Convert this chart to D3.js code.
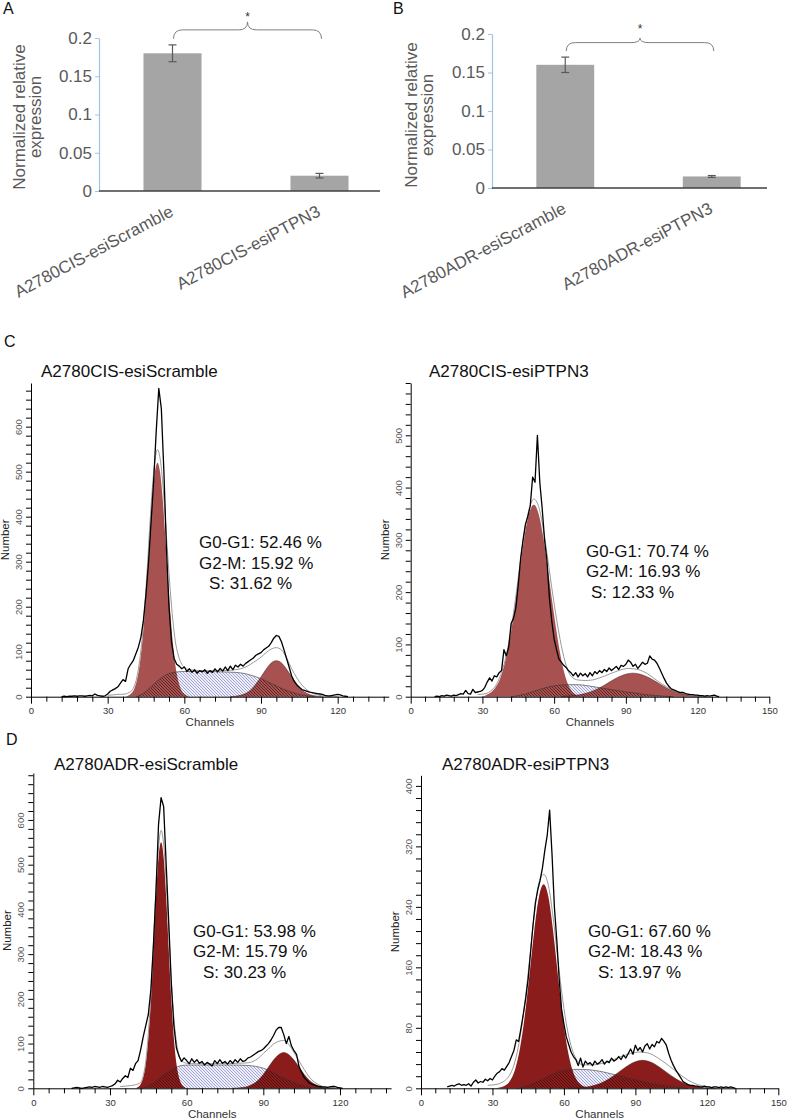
<!DOCTYPE html>
<html><head><meta charset="utf-8">
<script src="https://cdn.jsdelivr.net/npm/d3@7"></script>
<style>body{margin:0;background:#fff}svg{display:block}text{font-family:"Liberation Sans",Arial,sans-serif}</style>
</head><body><svg id="chart" width="787" height="1119"></svg>
<script>
// ---------- Bar chart data ----------
const barTicks = [0, 0.05, 0.1, 0.15, 0.2];
const catsA = ["A2780CIS-esiScramble", "A2780CIS-esiPTPN3"];
const valsA = [0.18, 0.02];
const errsA = [0.011, 0.003];
const catsB = ["A2780ADR-esiScramble", "A2780ADR-esiPTPN3"];
const valsB = [0.16, 0.015];
const errsB = [0.01, 0.0012];

// ---------- Flow cytometry data ----------
// C left: A2780CIS-esiScramble
const cisScrRawStart = 12;
const cisScrRaw = [0,1,0,1,1,2,1,2,2,1, 2,3,2,6,3,2,1,2,6,12, 15,18,22,30,38,34,62,72,80,95,
  110,132,170,228,300,390,480,590,685,640, 500,330,200,120,85,72,68,62,66,56, 62,54,60,52,58,55,60,52,58,54,
  62,55,63,57,66,58,68,60,70,66, 72,68,74,78,82,86,92,95,98,104, 108,112,120,130,136,134,122,104,85,66,
  46,34,26,21,16,14,12,10,9,8, 7,6,5,3,2,2,3,4,5,4, 2,1,0];
const cisScrG1 = [[37,0],[38.5,4],[39.5,9],[40.5,19],[41.5,38],[42.5,70],[43.5,120],[44.5,187],[45.5,271],[46.5,360],[47.5,442],[48.5,499],[49.5,520],[50.5,499],[51.5,442],[52.5,360],[53.5,271],[54.5,187],[55.5,120],[56.5,70],[57.5,38],[58.5,19],[59.5,9],[60.5,4],[62,0]];
const cisScrG2 = [[78,0],[80,1],[82,3],[84,7],[86,15],[88,28],[90,44],[92,61],[94,75],[96,80],[98,75],[100,61],[102,44],[104,28],[106,15],[108,7],[110,3],[112,1],[114,0]];
const cisScrS = [[41,0],[43,4],[45,12],[47,22],[49,33],[51,42],[53,49],[55,53],[57,55],[60,56],[65,56],[70,56],[75,55],[80,54],[84,51],[87,46],[90,40],[93,32],[96,24],[99,16],[102,10],[105,5],[108,2],[111,0]];
const cisScrFit = [[30,3],[34,5],[37,6],[38.5,10],[39.5,14],[40.5,25],[41.5,45],[42.5,80],[43.5,130],[44.5,200],[45.5,287],[46.5,380],[47.5,465],[48.5,525],[49.5,549],[50.5,530],[51.5,478],[52.5,400],[53.5,315],[54.5,235],[55.5,170],[56.5,122],[57.5,95],[58.5,78],[59.5,68],[62,60],[66,58],[70,58],[75,58],[80,60],[84,66],[87,76],[90,88],[92,98],[94,106],[96,109],[98,104],[100,86],[102,62],[104,42],[106,26],[108,15],[110,8],[112,4],[116,1],[120,0]];
const cisScrStats = ["G0-G1: 52.46 %", "G2-M: 15.92 %", "S: 31.62 %"];

// C right: A2780CIS-esiPTPN3
const cisPtRawStart = 10;
const cisPtRaw = [0,1,0,2,1,3,2,1,3,2, 4,6,5,12,6,5,14,8,9,10, 12,18,28,36,30,40,38,46,50,90,
  78,95,140,150,170,215,265,300,330,345, 365,420,410,500,410,360,300,260,190,145, 110,90,72,66,60,56,50,46,40,46,
  38,45,40,44,38,46,40,48,44,50, 46,52,48,55,50,54,58,52,60,58, 62,70,66,58,62,54,60,66,62,64,
  78,72,70,64,55,45,35,26,20,15, 13,11,9,8,8,6,5,4,4,3, 3,2,2,1,2,1,2,3,1,0];
const cisPtG1 = [[29.5,0],[31.5,3],[33.5,8],[35.5,18],[37.5,36],[39.5,67],[41.5,112],[43.5,172],[45.5,240],[47.5,304],[49.5,350],[51.5,367],[53.5,350],[55.5,304],[57.5,240],[59.5,172],[61.5,110],[63.5,60],[65.5,27],[67.5,10],[69.5,3],[71.5,0]];
const cisPtG2 = [[63,0],[65,1],[69,2.5],[73,6],[77,12.5],[81,22],[85,33],[89,41.5],[93,45],[97,41.5],[101,33],[105,22],[109,12.5],[113,6],[117,2.5],[121,1],[124,0]];
const cisPtS = [[42,0],[46,3],[50,8],[54,14],[58,19],[62,22],[66,23],[70,23],[74,21],[78,18],[82,15],[86,12],[90,9],[94,7],[98,4],[102,2.5],[106,1],[110,0]];
const cisPtFit = [[28,4],[31.5,6],[33.5,11],[35.5,21],[37.5,40],[39.5,70],[41.5,116],[43.5,176],[45.5,245],[47.5,311],[49.5,358],[51.5,378],[53.5,364],[55.5,320],[57.5,258],[59.5,193],[61.5,135],[63.5,87],[65.5,53],[67.5,37],[70,32],[73,31],[76,32],[79,36],[83,43],[87,50],[91,54],[95,52],[99,44],[103,31],[107,19],[111,10],[115,5],[119,2],[124,0]];
const cisPtStats = ["G0-G1: 70.74 %", "G2-M: 16.93 %", "S: 12.33 %"];

// D left: A2780ADR-esiScramble
const adrScrRawStart = 15;
const adrScrRaw = [0,1,2,1,0,1,2,3,2,4, 3,2,4,3,2,4,6,10,18,14, 22,28,24,45,40,55,62,86,115,140,
  165,220,320,440,590,650,630,500,370,235, 140,90,72,60,68,62,55,66,58,64, 56,60,52,58,54,50,62,55,64,56,
  60,54,62,56,64,58,66,60,62,68, 70,74,78,82,84,88,94,100,108,118, 130,136,136,120,100,116,95,84,76,48,
  36,24,18,12,9,7,5,4,3,3, 2,3,4,4,2,1,0];
const adrScrG1 = [[40,0],[41,3],[42,9],[43,24],[44,55],[45,112],[46,198],[47,310],[48,426],[49,516],[50,550],[51,516],[52,426],[53,310],[54,198],[55,112],[56,55],[57,24],[58,9],[59,3],[60,0]];
const adrScrG2 = [[78,0],[80,0.7],[82,1.8],[84,4.3],[86,9.4],[88,18],[90,31],[92,47],[94,63],[96,75],[98,80],[100,75],[102,63],[104,47],[106,31],[108,18],[110,9.4],[112,4.3],[114,1.8],[116,0.7],[118,0]];
const adrScrS = [[42,0],[44,3],[46,9],[48,17],[50,26],[52,34],[54,41],[56,47],[58,51],[61,52],[66,52],[72,52],[78,52],[84,51],[87,49],[90,45],[93,38],[96,29],[99,20],[102,13],[105,7],[108,3],[111,1],[114,0]];
const adrScrFit = [[34,4],[38,6],[40,8],[42,13],[43,28],[44,60],[45,122],[46,208],[47,322],[48,445],[49,538],[50,577],[51,546],[52,460],[53,348],[54,240],[55,158],[56,104],[57,75],[58,62],[60,56],[64,55],[70,55],[76,55],[80,56],[84,57],[86,60],[88,67],[90,78],[92,88],[94,99],[96,105],[98,107],[100,98],[102,80],[104,61],[106,42],[108,25],[110,14],[112,7],[114,3],[118,1],[121,0]];
const adrScrStats = ["G0-G1: 53.98 %", "G2-M: 15.79 %", "S: 30.23 %"];

// D right: A2780ADR-esiPTPN3
const adrPtRawStart = 11;
const adrPtRaw = [2,3,4,3,5,6,4,5,4,6, 3,8,11,7,9,8,12,10,13,11, 16,20,22,26,24,29,34,42,50,64,
  62,80,99,120,145,180,215,245,262,275, 292,315,335,368,310,240,196,145,105,85, 68,58,48,42,38,30,40,28,36,32,
  34,30,36,32,34,38,32,36,34,40, 36,38,42,38,44,40,46,52,45,57, 50,54,48,56,59,52,58,55,62,60,
  66,62,57,46,37,30,24,19,14,9, 7,5,4,4,3,3,2,2,3,2, 2,1,2,2,1,2,1,2,1,2,1,0];
const adrPtG1 = [[31.5,0],[33.5,1.3],[35.5,4],[37.5,10.5],[39.5,25],[41.5,52],[43.5,94],[45.5,149],[47.5,207],[49.5,253],[51.5,270],[53.5,253],[55.5,207],[57.5,149],[59.5,94],[61.5,52],[63.5,25],[65.5,10.5],[67.5,4],[69.5,1.3],[71.5,0]];
const adrPtG2 = [[62,0],[65,0.5],[69,1.5],[73,4],[77,9],[81,16.7],[85,26],[89,33.9],[93,37],[97,33.9],[101,26],[105,16.7],[109,9],[113,4],[117,1.5],[121,0.5],[124,0]];
const adrPtS = [[40,0],[44,3],[48,8],[52,14],[56,20],[60,24],[64,25],[68,25],[72,24],[76,22],[80,19],[84,16],[88,13],[92,10],[96,7],[100,5],[104,3],[108,1.5],[112,0]];
const adrPtFit = [[28,4],[31.5,5],[33.5,7],[35.5,11],[37.5,19],[39.5,36],[41.5,66],[43.5,110],[45.5,168],[47.5,228],[49.5,272],[51.5,283],[53.5,268],[55.5,225],[57.5,169],[59.5,117],[61.5,77],[63.5,51],[65.5,37],[68,31],[72,31],[76,33],[80,37],[84,42],[88,46],[92,48],[96,46],[100,39],[104,30],[108,20],[112,11],[116,5],[120,2],[124,0]];
const adrPtStats = ["G0-G1: 67.60 %", "G2-M: 18.43 %", "S: 13.97 %"];

// ---------- Drawing ----------
const FONT = '"Liberation Sans", Arial, sans-serif';
const svg = d3.select("#chart");
svg.append("rect").attr("width", 787).attr("height", 1119).attr("fill", "#fff");
const defs = svg.append("defs");

function hatch(id, bg, stroke, sw) {
  const p = defs.append("pattern").attr("id", id).attr("patternUnits", "userSpaceOnUse")
    .attr("width", 3).attr("height", 3);
  if (bg) p.append("rect").attr("width", 3).attr("height", 3).attr("fill", bg);
  p.append("path").attr("d", "M-1,-1L4,4M2,-1L4,1M-1,2L1,4").attr("stroke", stroke).attr("stroke-width", sw);
}
hatch("hBlue", "#eeeef8", "#7f86c8", 0.7);
hatch("hDark", null, "#2a0a0a", 0.6);

function panelLabel(t, x, y) {
  svg.append("text").attr("x", x).attr("y", y).text(t)
    .attr("font-size", 16).attr("fill", "#111").attr("font-family", FONT);
}

function barChart(o) {
  const g = svg.append("g");
  const y = d3.scaleLinear().domain([0, 0.2]).range([o.y0, o.yTop]);
  const x = d3.scaleBand().domain(o.cats).range([o.axisX, o.bandEnd]);
  const ax = d3.axisLeft(y).tickValues(barTicks).tickSize(4).tickSizeOuter(0).tickPadding(3)
    .tickFormat(d => String(d));
  const ga = g.append("g").attr("transform", `translate(${o.axisX},0)`).call(ax)
    .attr("font-size", 17).attr("font-family", FONT);
  ga.select(".domain").attr("stroke", "#9dc3e6").attr("stroke-width", 1.2);
  ga.selectAll(".tick line").attr("stroke", "#9dc3e6");
  ga.selectAll(".tick text").attr("fill", "#595959");

  const bw = x.bandwidth() * 0.395;
  g.selectAll("rect.bar").data(o.vals).enter().append("rect")
    .attr("x", (d, i) => x(o.cats[i]) + (x.bandwidth() - bw) / 2)
    .attr("width", bw)
    .attr("y", d => y(d)).attr("height", d => y(0) - y(d))
    .attr("fill", "#a5a5a5");
  // error bars
  o.vals.forEach((v, i) => {
    const cx = x(o.cats[i]) + x.bandwidth() / 2;
    const e = o.errs[i];
    const eg = g.append("g").attr("stroke", "#595959").attr("stroke-width", 1.2);
    eg.append("line").attr("x1", cx).attr("x2", cx).attr("y1", y(v - e)).attr("y2", y(v + e));
    eg.append("line").attr("x1", cx - 4).attr("x2", cx + 4).attr("y1", y(v - e)).attr("y2", y(v - e));
    eg.append("line").attr("x1", cx - 4).attr("x2", cx + 4).attr("y1", y(v + e)).attr("y2", y(v + e));
  });
  // baseline
  g.append("line").attr("x1", o.axisX).attr("x2", o.baseEnd).attr("y1", y(0)).attr("y2", y(0))
    .attr("stroke", "#404040").attr("stroke-width", 1.3);
  // y label (two lines)
  [["Normalized relative", o.ylx1], ["expression", o.ylx2]].forEach(([t, xx]) => {
    g.append("text").attr("transform", `translate(${xx},${o.ylCy}) rotate(-90)`)
      .attr("text-anchor", "middle").attr("font-size", 17).attr("fill", "#595959")
      .attr("font-family", FONT).text(t);
  });
  // category labels
  o.cats.forEach((c, i) => {
    const cx = x(c) + x.bandwidth() / 2;
    g.append("text").attr("transform", `translate(${cx + 2},${y(0) + 24}) rotate(-28)`)
      .attr("text-anchor", "end").attr("font-size", 17).attr("fill", "#595959")
      .attr("font-family", FONT).text(c);
  });
  // significance brace
  const L = x(o.cats[0]) + x.bandwidth() / 2 + 1;
  const R = x(o.cats[1]) + x.bandwidth() / 2 + 2;
  const C = (L + R) / 2;
  const yE = y(o.vals[0] + o.errs[0]) - 6;
  const yM = yE - o.braceMid, yP = yE - o.bracePeak, r = 9;
  const p = `M${L},${yE}Q${L},${yM} ${L + r},${yM}H${C - r}Q${C},${yM} ${C},${yP}` +
    `Q${C},${yM} ${C + r},${yM}H${R - r}Q${R},${yM} ${R},${yE}`;
  g.append("path").attr("d", p).attr("fill", "none").attr("stroke", "#808080").attr("stroke-width", 1);
  g.append("text").attr("x", C).attr("y", yP - o.starGap).attr("text-anchor", "middle")
    .attr("font-size", 12).attr("fill", "#333").attr("font-family", FONT).text("*");
}

barChart({cats: catsA, vals: valsA, errs: errsA, axisX: 99, bandEnd: 393, baseEnd: 380,
  y0: 191, yTop: 38, ylx1: 25, ylx2: 41, ylCy: 117, braceMid: 9, bracePeak: 17, starGap: 1});
barChart({cats: catsB, vals: valsB, errs: errsB, axisX: 492, bandEnd: 785, baseEnd: 767,
  y0: 188, yTop: 34, ylx1: 417, ylx2: 433, ylCy: 115, braceMid: 8.5, bracePeak: 13, starGap: 5});

panelLabel("A", 3, 14);
panelLabel("B", 393, 14);
panelLabel("C", 4, 347);
panelLabel("D", 6, 745);

function flowPanel(o) {
  const g = svg.append("g");
  const x = d3.scaleLinear().domain([0, o.xMax]).range([o.x0, o.x1]);
  const y = d3.scaleLinear().domain([0, o.yMax]).range([o.y0, o.y1]);
  const area = d3.area().x(d => x(d[0])).y0(y(0)).y1(d => y(d[1])).curve(d3.curveMonotoneX);
  const line = d3.line().x(d => x(d[0])).y(d => y(d[1])).curve(d3.curveMonotoneX);

  g.append("path").datum(o.s).attr("d", area).attr("fill", "url(#hBlue)");
  g.append("path").datum(o.g1).attr("d", area).attr("fill", o.red);
  g.append("path").datum(o.g2).attr("d", area).attr("fill", o.red);
  const cid = "clip" + o.id;
  const cp = defs.append("clipPath").attr("id", cid);
  cp.append("path").datum(o.g1).attr("d", area);
  cp.append("path").datum(o.g2).attr("d", area);
  g.append("path").datum(o.s).attr("d", area).attr("fill", "url(#hDark)").attr("clip-path", `url(#${cid})`);
  g.append("path").datum(o.s).attr("d", line).attr("fill", "none").attr("stroke", "#333").attr("stroke-width", 0.6);
  g.append("path").datum(o.g2).attr("d", line).attr("fill", "none").attr("stroke", "#3a1010").attr("stroke-width", 0.5);
  g.append("path").datum(o.fit).attr("d", line).attr("fill", "none").attr("stroke", "#9a9a9a").attr("stroke-width", 1);
  const rawPts = o.raw.map((v, i) => [o.rawStart + i, v]);
  g.append("path").datum(rawPts).attr("d", d3.line().x(d => x(d[0])).y(d => y(d[1])))
    .attr("fill", "none").attr("stroke", "#000").attr("stroke-width", 1.3).attr("stroke-linejoin", "round");

  // axes
  const yAx = d3.axisLeft(y).tickValues(d3.range(0, o.yMax + 0.01, o.yMinor)).tickSize(5).tickSizeOuter(0)
    .tickFormat(d => (d % o.yMajor === 0 && d <= o.yLabelMax) ? d : "");
  const gy = g.append("g").attr("transform", `translate(${o.x0},0)`).call(yAx)
    .attr("font-size", 9.5).attr("font-family", FONT);
  gy.selectAll(".tick text").attr("transform", "rotate(-90)").attr("x", 0).attr("y", -9)
    .attr("dy", 0).attr("text-anchor", "middle").attr("fill", "#555");
  const xAx = d3.axisBottom(x).tickValues(d3.range(0, o.xMax + 0.01, 6)).tickSize(5).tickSizeOuter(0)
    .tickPadding(5.5).tickFormat(d => d % 30 === 0 ? d : "");
  const gx = g.append("g").attr("transform", `translate(0,${o.y0})`).call(xAx)
    .attr("font-size", 9.5).attr("font-family", FONT);
  gx.selectAll(".tick line").filter(d => d % 30 === 0).attr("y2", 7);
  gx.selectAll(".tick text").attr("fill", "#333");
  g.selectAll(".domain").attr("stroke", "#000");

  g.append("text").attr("x", (o.x0 + o.x1) / 2).attr("y", o.y0 + 29.5).attr("text-anchor", "middle")
    .attr("font-size", 11.5).attr("fill", "#333").attr("font-family", FONT).text("Channels");
  g.append("text").attr("transform", `translate(${o.x0 - 22},${(o.y0 + o.y1) / 2}) rotate(-90)`)
    .attr("text-anchor", "middle").attr("font-size", 11.5).attr("fill", "#222")
    .attr("font-family", FONT).text("Number");
  g.append("text").attr("x", o.titleX).attr("y", o.titleY).attr("font-size", 17).attr("fill", "#111")
    .attr("font-family", FONT).text(o.title);
  o.stats.forEach((s, i) => {
    g.append("text").attr("x", o.statX + (i === 2 ? o.sIndent : 0)).attr("y", o.statY + i * 20.6)
      .attr("font-size", 17).attr("fill", "#111").attr("font-family", FONT).text(s);
  });
}

const redC = "#a75251", redD = "#8b1c1c";
flowPanel({id: "cl", title: "A2780CIS-esiScramble", titleX: 41, titleY: 377,
  raw: cisScrRaw, rawStart: cisScrRawStart, g1: cisScrG1, g2: cisScrG2, s: cisScrS, fit: cisScrFit,
  stats: cisScrStats, statX: 199, statY: 548, sIndent: 10, red: redC,
  x0: 31, x1: 388.8, xMax: 140, y0: 696.7, y1: 383, yMax: 697, yMinor: 20, yMajor: 100, yLabelMax: 600});
flowPanel({id: "cr", title: "A2780CIS-esiPTPN3", titleX: 429, titleY: 377,
  raw: cisPtRaw, rawStart: cisPtRawStart, g1: cisPtG1, g2: cisPtG2, s: cisPtS, fit: cisPtFit,
  stats: cisPtStats, statX: 586, statY: 556.7, sIndent: 5, red: redC,
  x0: 410.7, x1: 769.3, xMax: 150, y0: 696.7, y1: 383, yMax: 600, yMinor: 20, yMajor: 100, yLabelMax: 500});
flowPanel({id: "dl", title: "A2780ADR-esiScramble", titleX: 54, titleY: 770,
  raw: adrScrRaw, rawStart: adrScrRawStart, g1: adrScrG1, g2: adrScrG2, s: adrScrS, fit: adrScrFit,
  stats: adrScrStats, statX: 193, statY: 936.7, sIndent: 10, red: redD,
  x0: 33.3, x1: 391.1, xMax: 140, y0: 1088.3, y1: 773, yMax: 705, yMinor: 20, yMajor: 100, yLabelMax: 600});
flowPanel({id: "dr", title: "A2780ADR-esiPTPN3", titleX: 442, titleY: 770,
  raw: adrPtRaw, rawStart: adrPtRawStart, g1: adrPtG1, g2: adrPtG2, s: adrPtS, fit: adrPtFit,
  stats: adrPtStats, statX: 588, statY: 936.7, sIndent: 10, red: redD,
  x0: 421, x1: 778.3, xMax: 150, y0: 1088.3, y1: 775.3, yMax: 414, yMinor: 16, yMajor: 80, yLabelMax: 400});
</script>
</body></html>
